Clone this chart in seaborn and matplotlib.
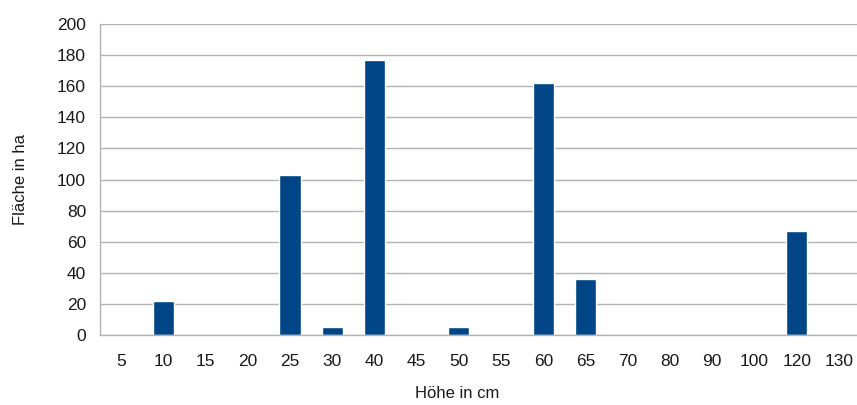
import matplotlib
matplotlib.use("Agg")
import matplotlib.pyplot as plt
import seaborn as sns
import pandas as pd

# categories (height in cm) and area in ha
hoehe = ["5", "10", "15", "20", "25", "30", "40", "45", "50", "55",
         "60", "65", "70", "80", "90", "100", "120", "130"]
flaeche = [0, 22, 0, 0, 103, 5, 177, 0, 5, 0,
           162, 36, 0, 0, 0, 0, 67, 0]
y_ticks = [0, 20, 40, 60, 80, 100, 120, 140, 160, 180, 200]

df = pd.DataFrame({"Hoehe": hoehe, "Flaeche": flaeche})

sns.set_style("white")
plt.rcParams['font.family'] = ['Liberation Sans', 'DejaVu Sans']

fig = plt.figure(figsize=(8.57, 4.05), dpi=100)
W, H = 857, 405
# plot area in pixels: left 100, right ~860 (cropped), top 24, bottom 335
ax = fig.add_axes([100 / W, 1 - 335 / H, 760 / W, (335 - 24) / H])

sns.barplot(data=df, x="Hoehe", y="Flaeche", order=hoehe,
            color="#004586", width=0.5, saturation=1, ax=ax)

ax.set_ylim(0, 200)
ax.set_xlim(-0.5, len(hoehe) - 0.5)
ax.set_yticks(y_ticks)
ax.yaxis.grid(True, color="#b3b3b3", linewidth=1)
ax.set_axisbelow(True)

# category boundary ticks on x axis
ax.set_xticks(range(len(hoehe)))
ax.set_xticks([i - 0.5 for i in range(len(hoehe) + 1)], minor=True)
ax.tick_params(axis="x", which="major", length=0, pad=14, labelsize=12.5, labelcolor="#1a1a1a")
ax.tick_params(axis="x", which="minor", length=7, color="#b3b3b3", width=1)
ax.tick_params(axis="y", length=7, color="#b3b3b3", width=1, labelsize=12.5, labelcolor="#1a1a1a", pad=3)

for s in ["top", "right"]:
    ax.spines[s].set_visible(False)
for s in ["left", "bottom"]:
    ax.spines[s].set_color("#b3b3b3")
    ax.spines[s].set_linewidth(1)

ax.set_xlabel("Höhe in cm", fontsize=12, color="#1a1a1a")
ax.set_ylabel("Fläche in ha", fontsize=12, color="#1a1a1a")
ax.xaxis.set_label_coords((457 - 100) / 760, -(386 - 335) / (335 - 24))
ax.yaxis.set_label_coords(-(100 - 28) / 760, 0.5)

fig.savefig("out.png", dpi=100)
